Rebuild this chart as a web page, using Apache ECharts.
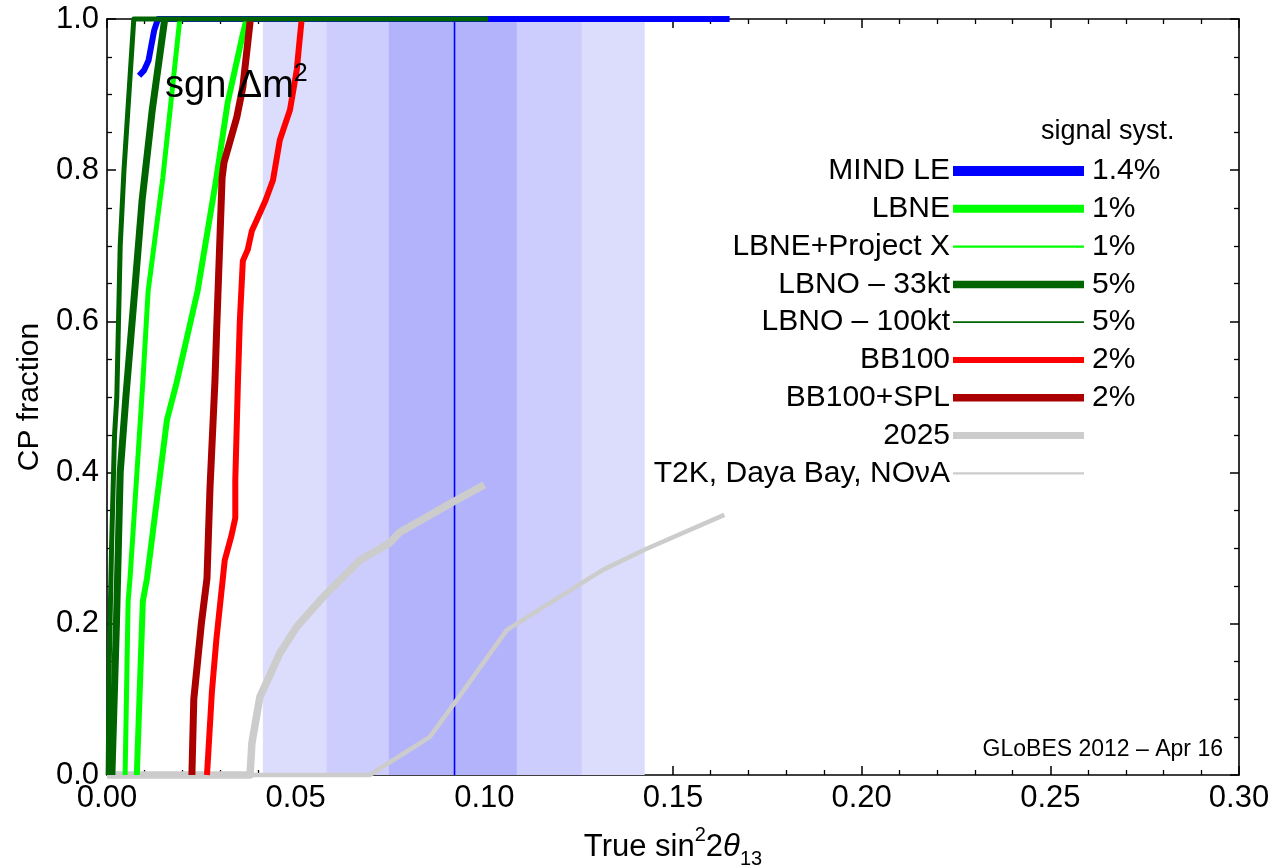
<!DOCTYPE html>
<html>
<head>
<meta charset="utf-8">
<script src="https://cdn.jsdelivr.net/npm/echarts@6/dist/echarts.min.js"></script>
<style>
  html, body { margin: 0; padding: 0; background: #fff; }
  #chart { width: 1274px; height: 868px; }
</style>
</head>
<body>
<div id="chart"></div>
<script>
// CP fraction with discovery reach versus true sin^2 2theta13

// Curves: [sin^2 2theta13, CP fraction]
const mindLE = [[0.0085, 0.925], [0.0098, 0.932], [0.011, 0.945], [0.0125, 0.985], [0.0135, 1.0], [0.165, 1.0]];
const lbne = [[0.0079, 0.0], [0.0095, 0.23], [0.0106, 0.26], [0.0159, 0.47], [0.0185, 0.52], [0.024, 0.64], [0.029, 0.79], [0.032, 0.89], [0.036, 0.98], [0.037, 1.0]];
const lbnePX = [[0.0048, 0.0], [0.0056, 0.23], [0.0061, 0.26], [0.0095, 0.52], [0.0109, 0.64], [0.0148, 0.79], [0.0193, 1.0]];
const lbno33 = [[0.0013, 0.0], [0.0025, 0.2], [0.0035, 0.4], [0.005, 0.5], [0.0075, 0.65], [0.0093, 0.76], [0.012, 0.88], [0.0153, 1.0]];
const lbno100 = [[0.0003, 0.0], [0.0006, 0.15], [0.0012, 0.3], [0.002, 0.45], [0.0026, 0.5], [0.0035, 0.7], [0.0045, 0.8], [0.0071, 1.0], [0.101, 1.0]];
const bb100 = [[0.0265, 0.0], [0.0278, 0.11], [0.029, 0.18], [0.0307, 0.26], [0.0312, 0.284], [0.033, 0.317], [0.034, 0.34], [0.034, 0.39], [0.0347, 0.52], [0.0352, 0.60], [0.036, 0.68], [0.0373, 0.695], [0.0384, 0.72], [0.0397, 0.734], [0.042, 0.76], [0.044, 0.787], [0.0458, 0.84], [0.0485, 0.88], [0.0503, 0.933], [0.051, 0.97], [0.0516, 1.0]];
const bb100SPL = [[0.0225, 0.0], [0.023, 0.1], [0.024, 0.15], [0.025, 0.2], [0.0265, 0.26], [0.0273, 0.38], [0.0286, 0.52], [0.029, 0.58], [0.0305, 0.79], [0.031, 0.81], [0.0344, 0.87], [0.036, 0.91], [0.038, 1.0]];
const y2025 = [[0.0, 0.0], [0.0379, 0.0], [0.0384, 0.042], [0.0405, 0.103], [0.0458, 0.161], [0.0503, 0.196], [0.0572, 0.235], [0.067, 0.284], [0.0749, 0.307], [0.0776, 0.321], [0.0917, 0.361], [0.100, 0.384]];
const current = [[0.0, 0.0], [0.0696, 0.0], [0.0855, 0.05], [0.0921, 0.095], [0.106, 0.192], [0.1313, 0.271], [0.1424, 0.298], [0.1636, 0.344]];

// Measured sin^2 2theta13: best fit and 1, 2, 3 sigma ranges
const bestFit = 0.0921;
const sigmaRanges = [[0.0413, 0.1425], [0.0582, 0.1258], [0.0747, 0.1086]];

// Legend content
const legendNames = ['MIND LE', 'LBNE', 'LBNE+Project X', 'LBNO \u2013 33kt', 'LBNO \u2013 100kt', 'BB100', 'BB100+SPL', '2025', 'T2K, Daya Bay, NO\u03bdA'];
const legendSyst = ['1.4%', '1%', '1%', '5%', '5%', '2%', '2%', '', ''];

// Axis tick values
const xTickInterval = 0.05;
const yTickInterval = 0.2;

const FONT = 'Liberation Sans, Arial, Helvetica, sans-serif';
const bandColors = ['#dcdcfc', '#ccccfd', '#b3b3fc'];

// Drawing styles, in legend order
const styles = [
  { data: mindLE,   color: '#0000ff', plotW: 6,   legW: 10,  z: 3 },
  { data: lbne,     color: '#00ff00', plotW: 6,   legW: 8,   z: 5 },
  { data: lbnePX,   color: '#00ff00', plotW: 5,   legW: 2.2, z: 6 },
  { data: lbno33,   color: '#006400', plotW: 7,   legW: 7.5, z: 9 },
  { data: lbno100,  color: '#006400', plotW: 5,   legW: 1.8, z: 10 },
  { data: bb100,    color: '#ff0000', plotW: 6,   legW: 6,   z: 7 },
  { data: bb100SPL, color: '#aa0000', plotW: 7,   legW: 7.5, z: 8 },
  { data: y2025,    color: '#cccccc', plotW: 7.5, legW: 7,   z: 4 },
  { data: current,  color: '#cccccc', plotW: 4.5, legW: 2.2, z: 4 }
];

const chart = echarts.init(document.getElementById('chart'), null, { renderer: 'canvas' });

const series = [];
series.push({
  type: 'line', data: [], z: 1, silent: true,
  markArea: {
    silent: true,
    data: sigmaRanges.map((r, i) => [
      { xAxis: r[0], yAxis: 0, itemStyle: { color: bandColors[i], opacity: 1 } },
      { xAxis: r[1], yAxis: 1 }
    ])
  }
});
series.push({
  type: 'line', data: [[bestFit, 0], [bestFit, 1]], z: 2, symbol: 'none', silent: true,
  lineStyle: { color: '#0000ff', width: 1.6 }
});
styles.forEach((s, i) => {
  series.push({
    name: legendNames[i], type: 'line', data: s.data, z: s.z, symbol: 'none', silent: true,
    clip: false, animation: false,
    lineStyle: { color: s.color, width: s.plotW, join: 'round', cap: 'butt' }
  });
});

const axisCommon = {
  axisLine: { show: true, onZero: false, lineStyle: { color: '#000', width: 1.6 } },
  axisTick: { show: true, inside: true, length: 9, lineStyle: { color: '#000', width: 1.5 } },
  minorTick: { show: true, length: 5, lineStyle: { color: '#000', width: 1.3 } },
  splitLine: { show: false },
  minorSplitLine: { show: false }
};

// Legend drawn as text + sample lines, rows at CP fraction 0.80, 0.75, ...
const graphics = [];
const rowY0 = 171, rowDY = 37.8;
legendNames.forEach((n, i) => {
  const y = rowY0 + i * rowDY;
  graphics.push({ type: 'text', x: 950, y: y, style: { text: n, font: '30px ' + FONT, fill: '#000', textAlign: 'right', textVerticalAlign: 'middle' } });
  graphics.push({ type: 'line', shape: { x1: 953, y1: y, x2: 1084, y2: y }, style: { stroke: styles[i].color, lineWidth: styles[i].legW } });
  if (legendSyst[i]) {
    graphics.push({ type: 'text', x: 1092, y: y, style: { text: legendSyst[i], font: '30px ' + FONT, fill: '#000', textAlign: 'left', textVerticalAlign: 'middle' } });
  }
});
graphics.push({ type: 'text', x: 1041, y: 132, style: { text: 'signal syst.', font: '27px ' + FONT, fill: '#000', textAlign: 'left', textVerticalAlign: 'middle' } });
graphics.push({
  type: 'text', x: 165, y: 84, z: 20,
  style: {
    text: '{a|sgn \u0394m}{s|2}', textVerticalAlign: 'middle',
    rich: {
      a: { fontSize: 38, fontFamily: FONT, fill: '#000', lineHeight: 44, verticalAlign: 'bottom' },
      s: { fontSize: 25, fontFamily: FONT, fill: '#000', lineHeight: 44, verticalAlign: 'top' }
    }
  }
});
graphics.push({ type: 'text', x: 1223, y: 750, style: { text: 'GLoBES 2012 \u2013 Apr 16', font: '23px ' + FONT, fill: '#000', textAlign: 'right', textVerticalAlign: 'middle' } });

chart.setOption({
  animation: false,
  backgroundColor: '#fff',
  grid: { left: 107, right: 35, top: 19, bottom: 93, containLabel: false, outerBoundsMode: 'none' },
  xAxis: [
    Object.assign({}, axisCommon, {
      type: 'value', min: 0, max: 0.3, interval: xTickInterval, position: 'bottom',
      minorTick: Object.assign({}, axisCommon.minorTick, { splitNumber: 5 }),
      axisLabel: { formatter: v => v.toFixed(2), fontSize: 31, fontFamily: FONT, color: '#000', margin: 8 },
      name: '{a|True sin}{s|2}{a|2}{t|\u03b8}{u|13}',
      nameLocation: 'middle', nameGap: 50,
      nameTextStyle: {
        rich: {
          a: { fontSize: 31, fontFamily: FONT, color: '#000', lineHeight: 44, verticalAlign: 'middle' },
          s: { fontSize: 20, fontFamily: FONT, color: '#000', lineHeight: 44, verticalAlign: 'top' },
          t: { fontSize: 31, fontFamily: FONT, fontStyle: 'italic', color: '#000', lineHeight: 44, verticalAlign: 'middle' },
          u: { fontSize: 20, fontFamily: FONT, color: '#000', lineHeight: 44, verticalAlign: 'bottom' }
        }
      }
    }),
    Object.assign({}, axisCommon, {
      type: 'value', min: 0, max: 0.3, interval: xTickInterval, position: 'top',
      minorTick: Object.assign({}, axisCommon.minorTick, { splitNumber: 5 }),
      axisLabel: { show: false }
    })
  ],
  yAxis: [
    Object.assign({}, axisCommon, {
      type: 'value', min: 0, max: 1, interval: yTickInterval, position: 'left',
      minorTick: Object.assign({}, axisCommon.minorTick, { splitNumber: 4 }),
      axisLabel: { formatter: v => v.toFixed(1), fontSize: 31, fontFamily: FONT, color: '#000', margin: 8 },
      name: 'CP fraction', nameLocation: 'middle', nameGap: 59, nameRotate: 90,
      nameTextStyle: { fontSize: 30, fontFamily: FONT, color: '#000' }
    }),
    Object.assign({}, axisCommon, {
      type: 'value', min: 0, max: 1, interval: yTickInterval, position: 'right',
      minorTick: Object.assign({}, axisCommon.minorTick, { splitNumber: 4 }),
      axisLabel: { show: false }
    })
  ],
  series: series,
  graphic: graphics
});
</script>
</body>
</html>
